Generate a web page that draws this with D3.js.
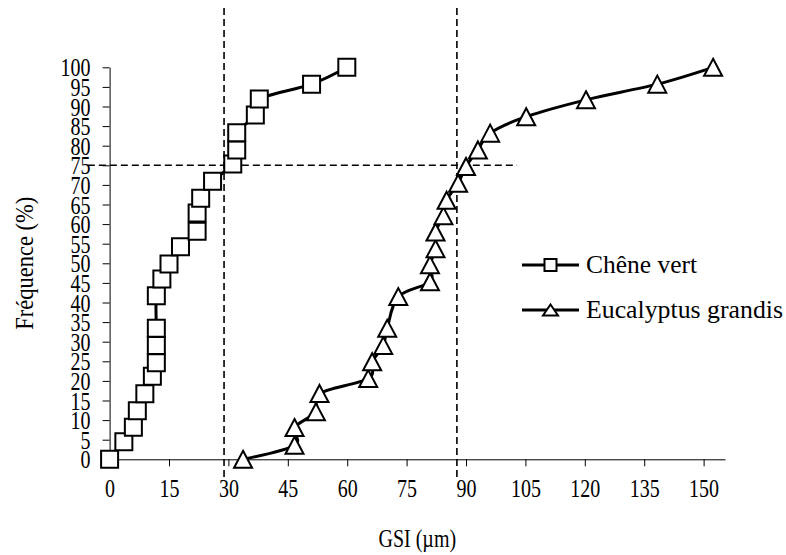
<!DOCTYPE html>
<html>
<head>
<meta charset="utf-8">
<script src="https://cdn.jsdelivr.net/npm/d3@7"></script>
<style>
  body { margin: 0; background: #fff; }
  svg { display: block; }
  text { font-family: "Liberation Serif", "Times New Roman", serif; fill: #000; }
</style>
</head>
<body>
<div id="chart"></div>
<script>
// Chêne vert (carrés)
const cheneGSI = [0, 3.6, 6.0, 7.0, 8.9, 10.8, 11.8, 11.8, 11.8, 11.8, 13.2, 15.0, 17.9, 22.1, 22.1, 23.0, 26.0, 31.1, 32.1, 32.1, 36.8, 37.8, 51.0, 59.9];
const cheneFreq = [0, 4.5, 8.2, 12.4, 16.7, 21.2, 24.6, 29.0, 33.4, 41.7, 46.0, 49.8, 54.2, 58.2, 62.8, 66.6, 70.9, 75.3, 78.9, 83.3, 87.8, 91.9, 95.7, 100];

// Eucalyptus grandis (triangles)
const eucaGSI = [33.7, 46.7, 46.7, 52.1, 53.0, 65.3, 66.3, 69.1, 70.1, 72.9, 80.9, 80.9, 82.3, 82.3, 84.3, 85.1, 88.0, 90.0, 93.0, 96.1, 105.2, 120.3, 138.3, 152.4];
const eucaFreq = [0, 3.6, 8.1, 12.1, 16.8, 20.6, 24.9, 29.0, 33.4, 41.5, 45.3, 49.6, 53.7, 58.0, 62.1, 66.1, 70.4, 74.7, 78.9, 83.2, 87.4, 91.7, 95.7, 100];

const xTicks = [0, 15, 30, 45, 60, 75, 90, 105, 120, 135, 150];
const yTicks = [0, 5, 10, 15, 20, 25, 30, 35, 40, 45, 50, 55, 60, 65, 70, 75, 80, 85, 90, 95, 100];

// lignes de repère (pointillés)
const refX = [28.9, 87.7];
const refY = 75;

const seriesNames = ["Chêne vert", "Eucalyptus grandis"];

const W = 786, H = 555;
const FS = 25;    // taille du texte
const SX = 0.8;   // texte resserré horizontalement

const svg = d3.select("#chart").append("svg")
    .attr("width", W)
    .attr("height", H);

svg.append("rect").attr("width", W).attr("height", H).attr("fill", "#fff");

const x = d3.scaleLinear().domain([0, 155.4]).range([109.6, 725]);
const y = d3.scaleLinear().domain([0, 100]).range([459.3, 67.3]);

// Axes
const xAxis = svg.append("g")
    .attr("transform", `translate(0,${y(0)})`)
    .call(d3.axisBottom(x).tickValues(xTicks).tickSize(7).tickSizeOuter(0).tickPadding(13));
xAxis.select(".domain").attr("stroke", "#000");
xAxis.selectAll(".tick line").attr("stroke", "#000");
xAxis.selectAll(".tick text")
    .attr("font-size", FS)
    .attr("transform", `scale(${SX},1)`);

const yAxis = svg.append("g")
    .attr("transform", `translate(${x(0)},0)`)
    .call(d3.axisLeft(y).tickValues(yTicks).tickSize(7).tickSizeOuter(0).tickPadding(17));
yAxis.select(".domain").attr("stroke", "#000");
yAxis.selectAll(".tick line").attr("stroke", "#000");
yAxis.selectAll(".tick text")
    .attr("font-size", FS)
    .attr("dy", "0.34em")
    .attr("transform", `scale(${SX},1)`);

// Titres
svg.append("text")
    .attr("transform", `translate(${(x.range()[0] + x.range()[1]) / 2},547) scale(${SX},1)`)
    .attr("text-anchor", "middle")
    .attr("font-size", FS)
    .text("GSI (µm)");

svg.append("text")
    .attr("transform", `translate(33,${(y(0) + y(100)) / 2}) rotate(-90) scale(0.9,1)`)
    .attr("text-anchor", "middle")
    .attr("font-size", FS)
    .text("Fréquence (%)");

// Pointillés
const dash = svg.append("g")
    .attr("stroke", "#000")
    .attr("stroke-width", 1.6)
    .attr("stroke-dasharray", "7,4")
    .attr("fill", "none");

dash.selectAll("line.v")
    .data(refX)
    .join("line")
    .attr("class", "v")
    .attr("x1", d => x(d)).attr("x2", d => x(d))
    .attr("y1", y(115.1)).attr("y2", y(-4.7));

dash.append("line")
    .attr("x1", x(-5.5)).attr("x2", x(102.9))
    .attr("y1", y(refY)).attr("y2", y(refY));

// Courbes
const line = d3.line()
    .x(d => x(d[0]))
    .y(d => y(d[1]))
    .curve(d3.curveCardinal.tension(0));

const cheneData = cheneGSI.map((v, i) => [v, cheneFreq[i]]);
const eucaData = eucaGSI.map((v, i) => [v, eucaFreq[i]]);

const squarePath = s => `M${-s / 2},${-s / 2}h${s}v${s}h${-s}Z`;
const trianglePath = (w, h) => `M0,${-h / 2}L${w / 2},${h / 2}L${-w / 2},${h / 2}Z`;

function drawSeries(data, markerPath) {
    const g = svg.append("g");
    g.append("path")
        .datum(data)
        .attr("d", line)
        .attr("fill", "none")
        .attr("stroke", "#000")
        .attr("stroke-width", 3);
    g.selectAll("path.m")
        .data(data)
        .join("path")
        .attr("class", "m")
        .attr("transform", d => `translate(${x(d[0])},${y(d[1])})`)
        .attr("d", markerPath)
        .attr("fill", "#fff")
        .attr("stroke", "#000")
        .attr("stroke-width", 2);
}

drawSeries(cheneData, squarePath(17));
drawSeries(eucaData, trianglePath(18, 17));

// Légende
const legend = svg.append("g");
const legendItems = [
    { name: seriesNames[0], y: 265, marker: squarePath(12), width: 111 },
    { name: seriesNames[1], y: 310, marker: trianglePath(15, 11), width: 197 }
];
legendItems.forEach(it => {
    legend.append("line")
        .attr("x1", 522).attr("x2", 579)
        .attr("y1", it.y).attr("y2", it.y)
        .attr("stroke", "#000").attr("stroke-width", 3);
    legend.append("path")
        .attr("transform", `translate(550.5,${it.y})`)
        .attr("d", it.marker)
        .attr("fill", "#fff").attr("stroke", "#000").attr("stroke-width", 2);
    legend.append("text")
        .attr("x", 586)
        .attr("y", it.y + 8)
        .attr("font-size", FS)
        .attr("textLength", it.width)
        .attr("lengthAdjust", "spacingAndGlyphs")
        .text(it.name);
});
</script>
</body>
</html>
